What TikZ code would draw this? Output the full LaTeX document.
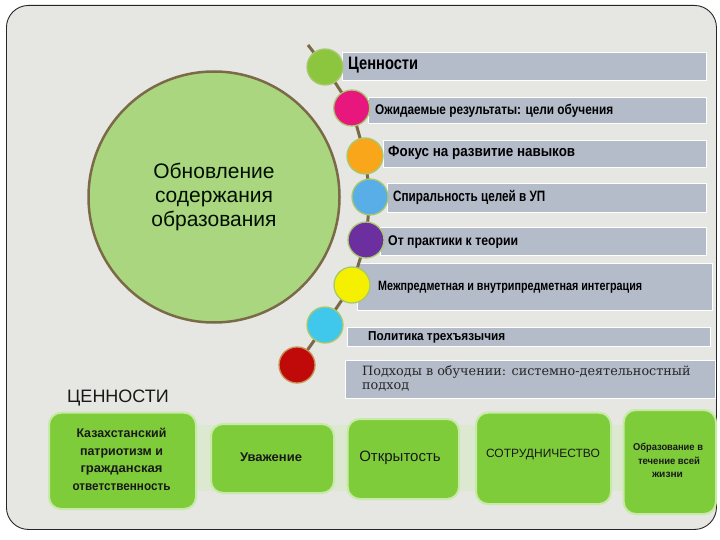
\documentclass[tikz,border=0pt]{standalone}
\usepackage{fontspec}
\usepackage{graphicx}
\setmainfont{Liberation Sans}
\newfontfamily\serfont{DejaVu Serif}
\definecolor{bgc}{HTML}{E6E6E2}
\definecolor{barc}{HTML}{B4BBC9}
\definecolor{chainc}{HTML}{7B6A48}
\definecolor{boxc}{HTML}{7FCC3A}
\definecolor{boxedge}{HTML}{C8EAA8}
\definecolor{bandc}{HTML}{DCE8D0}
\definecolor{bigc}{HTML}{A9D67E}
\definecolor{beadedge}{HTML}{A8C870}
\newlength\fitlen
% #1 target width (number, pt), #2 text in the current font
\newcommand\fitto[2]{\settowidth{\fitlen}{#2}\pgfmathsetmacro\fitsx{#1/\fitlen}\scalebox{\fitsx}[1]{#2}}
\tikzset{
  bar/.style={draw=white, line width=1.2pt, fill=barc, anchor=north west, inner sep=0pt},
  bead/.style={circle, minimum size=36pt, inner sep=0pt, draw=beadedge, line width=1.3pt},
  chain/.style={draw=chainc, line width=3pt},
  bartext/.style={anchor=base west, inner sep=0pt, text=black},
  gbox/.style={draw=boxedge, line width=2pt, fill=boxc, rounded corners=12pt, anchor=north west, inner sep=0pt},
  gtext/.style={align=center, inner sep=0pt, text=black!90}
}
\newcommand{\barrect}[5]{\node[bar, minimum width=#4-#2, minimum height=#5-#3] (#1) at (#2,#3) {};}
\newcommand{\gboxrect}[5]{\node[gbox, minimum width=#4-#2, minimum height=#5-#3] (#1) at (#2,#3) {};}
\newcommand{\nb}[1]{\fontsize{#1}{#1}\selectfont\bfseries}
\begin{document}
\begin{tikzpicture}[x=1pt, y=-1pt]
\useasboundingbox (0,0) rectangle (720,540);
% frame
\node[draw=black!85, line width=0.9pt, fill=bgc, rounded corners=22pt, minimum width=710pt, minimum height=524pt, anchor=north west, inner sep=0pt] (frame) at (6,5) {};
% light band behind value boxes
\node[fill=bandc, minimum width=526pt, minimum height=66pt, anchor=north west, inner sep=0pt] (band) at (190,425) {};
% big circle
\node[circle, fill=bigc, draw=chainc, line width=2.5pt, minimum size=251pt, inner sep=0pt] (big) at (214,197) {};
\node[gtext, font=\fontsize{21}{24}\selectfont, text=black!85!green!40!black] (bigtxt) at (214,197) {Обновление\\содержания\\образования};
% bars
\barrect{r1}{341.7}{51.7}{706}{80}
\barrect{r2}{368}{96.7}{706}{123.3}
\barrect{r3}{383}{140}{706}{166.7}
\barrect{r4}{386.7}{183}{706}{211.7}
\barrect{r5}{380}{227}{706}{255}
\barrect{r6}{356.7}{263}{711.7}{310}
\barrect{r7}{346.7}{326.7}{710}{346}
\barrect{r8}{345}{360}{715}{398}
% bar texts
\node[bartext, font=\nb{18}] (t1) at (348,70) {\fitto{70}{Ценности}};
\node[bartext, font=\nb{14}] (t2) at (375,114.5) {\fitto{238}{Ожидаемые результаты: цели обучения}};
\node[bartext, font=\nb{15}] (t3) at (388,157) {\fitto{187}{Фокус на развитие навыков}};
\node[bartext, font=\nb{15}] (t4) at (393,202) {\fitto{152}{Спиральность целей в УП}};
\node[bartext, font=\nb{14}] (t5) at (388,245) {\fitto{130}{От практики к теории}};
\node[bartext, font=\nb{13.5}] (t6) at (378,290) {\fitto{264}{Межпредметная и внутрипредметная интеграция}};
\node[bartext, font=\nb{13}] (t7) at (368,340) {\fitto{137}{Политика трехъязычия}};
\node[anchor=base west, inner sep=0pt, font=\fontsize{12.8}{14}\serfont, text=black!85] (t8a) at (362,375) {Подходы в обучении: системно-деятельностный};
\node[anchor=base west, inner sep=0pt, font=\fontsize{12.8}{14}\serfont, text=black!85] (t8b) at (362,389) {подход};
% chain
\coordinate (top) at (308,45);
\node[bead, draw=none] (b1) at (325,67) {};
\node[bead, draw=none] (b2) at (351.7,108) {};
\node[bead, draw=none] (b3) at (365,156) {};
\node[bead, draw=none] (b4) at (370,197) {};
\node[bead, draw=none] (b5) at (366,240) {};
\node[bead, draw=none] (b6) at (352,285) {};
\node[bead, draw=none] (b7) at (325,325) {};
\node[bead, draw=none] (b8) at (297,365) {};
\draw[chain] (top) -- (b1.center) -- (b2.center) -- (b3.center) -- (b4.center) -- (b5.center) -- (b6.center) -- (b7.center) -- (b8.center);
\node[bead, fill={rgb,255:red,140;green,198;blue,62}] (c1) at (b1) {};
\node[bead, fill={rgb,255:red,232;green,23;blue,125}] (c2) at (b2) {};
\node[bead, fill={rgb,255:red,249;green,166;blue,26}] (c3) at (b3) {};
\node[bead, fill={rgb,255:red,90;green,174;blue,232}] (c4) at (b4) {};
\node[bead, fill={rgb,255:red,107;green,47;blue,160}] (c5) at (b5) {};
\node[bead, fill={rgb,255:red,244;green,240;blue,0}] (c6) at (b6) {};
\node[bead, fill={rgb,255:red,64;green,200;blue,236}] (c7) at (b7) {};
\node[bead, fill={rgb,255:red,192;green,10;blue,10}, draw={rgb,255:red,200;green,144;blue,80}] (c8) at (b8) {};
% values heading
\node[anchor=base, inner sep=0pt, font=\fontsize{18}{20}\selectfont, text=black!90] (vh) at (118,402) {ЦЕННОСТИ};
% value boxes
\gboxrect{g1}{48}{411.7}{195}{508}
\gboxrect{g2}{210}{423}{333}{492}
\gboxrect{g3}{346.7}{418}{458}{498}
\gboxrect{g4}{475}{411.7}{610}{503}
\gboxrect{g5}{622.7}{409}{715}{513}
\node[gtext, font=\nb{12.6}, anchor=base] (g1a) at (121.5,437) {\fitto{90}{Казахстанский}};
\node[gtext, font=\nb{12.6}, anchor=base] (g1b) at (121.5,455) {\fitto{83}{патриотизм и}};
\node[gtext, font=\nb{12.6}, anchor=base] (g1c) at (121.5,472.5) {\fitto{82}{гражданская}};
\node[gtext, font=\nb{12.6}, anchor=base] (g1d) at (121.5,490) {\fitto{98}{ответственность}};
\node[gtext, font=\nb{12.6}, anchor=base] (g2t) at (271,461) {\fitto{62}{Уважение}};
\node[gtext, font=\fontsize{15}{17}\selectfont] (g3t) at (400,458) {Открытость};
\node[gtext, font=\fontsize{12}{14}\selectfont] (g4t) at (543,455) {СОТРУДНИЧЕСТВО};
\node[gtext, font=\nb{10}, anchor=base] (g5a) at (668,450.5) {\fitto{70}{Образование в}};
\node[gtext, font=\nb{10}, anchor=base] (g5b) at (669,464) {\fitto{62}{течение всей}};
\node[gtext, font=\nb{10}, anchor=base] (g5c) at (667.5,477) {\fitto{31}{жизни}};
\end{tikzpicture}
\end{document}
